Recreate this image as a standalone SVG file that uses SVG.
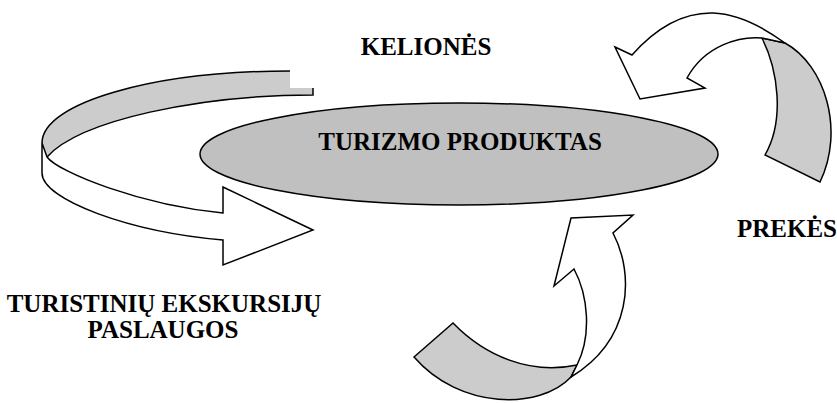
<svg xmlns="http://www.w3.org/2000/svg" width="837" height="403" viewBox="0 0 837 403">
<style>
.ln{fill:none;stroke:#000;stroke-width:1.5;stroke-linejoin:miter}
.w{fill:#fff;stroke:#000;stroke-width:1.5;stroke-linejoin:miter}
.g{fill:#cccccc;stroke:#000;stroke-width:1.5;stroke-linejoin:miter}
.gf{fill:#cccccc;stroke:none}
.t{font-family:"Liberation Serif","Times New Roman",serif;font-weight:bold;font-size:25px;fill:#000}
</style>
<rect width="837" height="403" fill="#fff"/>
<g id="connectors">
  <g id="arrow-left">
    <path class="gf" d="M290,71 L290,88 L313,88 L313,95 C200,95 80,120 47,157 L42,143 C42,103 153,71 290,71 Z"/>
    <path class="ln" d="M290,71 C153,71 42,103 42,143"/>
    <path class="ln" d="M313,88 L313,95 C200,95 80,120 47,157"/>
    <path class="w" d="M42,143 L47,157 C58,172 140,205 223,213 L223,187 L313,230 L223,265 L223,240 C130,232 42,200 42,173 Z"/>
  </g>
  <g id="arrow-right">
    <path class="g" d="M762,38 L785,43 C825,65 845,130 820,182 L765,155 C785,120 778,70 762,38 Z"/>
    <path class="w" d="M615,47 L632,55 Q670,12 713,13 Q745,14 785,43 L762,38 C740,36 705,45 687,78 L705,88 L640,99 Z"/>
  </g>
  <g id="arrow-bottom">
    <path class="g" d="M453,323 C485,356 530,375 577,365 L571,377 C540,410 460,410 414,357 Z"/>
    <path class="w" d="M574,269 L554,286 L571,218 L633,215 L613,233 C635,275 632,340 571,377 L577,365 C592,335 588,295 574,269 Z"/>
  </g>
</g>
<g id="node-produktas">
  <ellipse cx="459" cy="154" rx="259" ry="51" fill="#c0c0c0" stroke="#000" stroke-width="1.5"/>
  <text class="t" x="460" y="150" text-anchor="middle">TURIZMO PRODUKTAS</text>
</g>
<g id="label-keliones">
  <text class="t" x="426" y="55" text-anchor="middle">KELIONĖS</text>
</g>
<g id="label-prekes">
  <text class="t" x="737" y="237">PREKĖS</text>
</g>
<g id="label-ekskursijos">
  <text class="t" x="164" y="312" text-anchor="middle">TURISTINIŲ EKSKURSIJŲ</text>
  <text class="t" x="163" y="338" text-anchor="middle">PASLAUGOS</text>
</g>
</svg>
